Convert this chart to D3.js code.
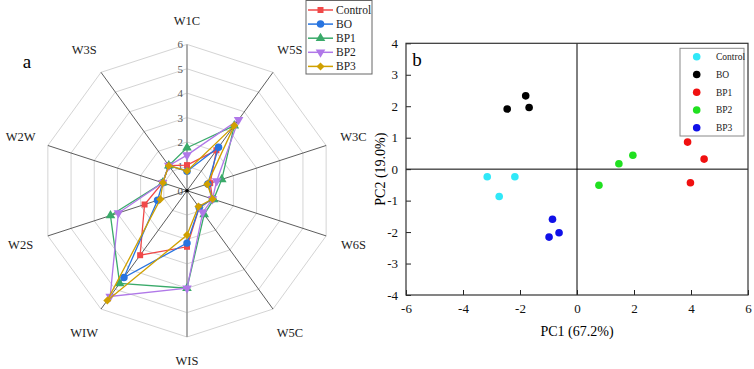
<!DOCTYPE html>
<html>
<head>
<meta charset="utf-8">
<script src="https://cdn.jsdelivr.net/npm/d3@7"></script>
<style>
  body { margin: 0; background: #fff; }
  svg { display: block; font-family: "Liberation Serif", "Times New Roman", serif; }
</style>
</head>
<body>
<svg id="chart" width="754" height="369"></svg>
<script>
// Radar (a) data
const sensors = ["W1C", "W5S", "W3C", "W6S", "W5C", "WIS", "WIW", "W2S", "W2W", "W3S"];
const groups = ["Control", "BO", "BP1", "BP2", "BP3"];
const radarControl = [1.05, 2.05, 1.0, 1.1, 0.85, 2.3, 3.27, 1.83, 1.05, 1.27];
const radarBO = [0.8, 2.2, 0.9, 1.1, 0.85, 2.15, 4.4, 1.27, 1.05, 1.27];
const radarBP1 = [1.76, 3.3, 1.5, 1.15, 1.2, 4.0, 4.7, 3.3, 1.05, 1.27];
const radarBP2 = [1.46, 3.6, 1.28, 1.1, 1.1, 4.0, 5.36, 2.96, 1.05, 1.27];
const radarBP3 = [0.81, 3.3, 0.87, 1.1, 0.8, 1.82, 5.56, 1.15, 1.04, 1.27];
const radarTicks = [0, 1, 2, 3, 4, 5, 6];

// PCA (b) data, [PC1, PC2]
const pcaControl = [[-3.15, -0.24], [-2.18, -0.24], [-2.73, -0.87]];
const pcaBO = [[-1.8, 2.33], [-2.45, 1.91], [-1.68, 1.96]];
const pcaBP1 = [[3.88, 0.86], [4.46, 0.32], [3.98, -0.43]];
const pcaBP2 = [[1.96, 0.44], [1.47, 0.17], [0.77, -0.51]];
const pcaBP3 = [[-0.86, -1.59], [-0.63, -2.02], [-0.98, -2.16]];
const pcaXTicks = [-6, -4, -2, 0, 2, 4, 6];
const pcaYTicks = [-4, -3, -2, -1, 0, 1, 2, 3, 4];

const svg = d3.select("#chart");

// ---------- Radar ----------
function drawRadar() {
  const cx = 187, cy = 190.7;
  const series = [radarControl, radarBO, radarBP1, radarBP2, radarBP3];
  const colors = ["#f04848", "#2874e0", "#3aaa6a", "#b078e8", "#d0a000"];
  const symbols = [
    { type: d3.symbolSquare, size: 36, rot: 0 },
    { type: d3.symbolCircle, size: 44, rot: 0 },
    { type: d3.symbolTriangle, size: 40, rot: 0 },
    { type: d3.symbolTriangle, size: 40, rot: 180 },
    { type: d3.symbolSquare, size: 32, rot: 45 }
  ];

  const r = d3.scaleLinear().domain([0, 6]).range([0, 146.3]);
  const angle = d3.scalePoint().domain(d3.range(sensors.length + 1)).range([0, 2 * Math.PI]);

  const g = svg.append("g").attr("transform", `translate(${cx},${cy})`);

  const ringLine = d3.lineRadial()
    .angle((d, i) => angle(i))
    .radius(d => r(d))
    .curve(d3.curveLinearClosed);

  // rings
  radarTicks.filter(t => t > 0).forEach(t => {
    g.append("path")
      .attr("d", ringLine(sensors.map(() => t)))
      .attr("fill", "none")
      .attr("stroke", "#d4d4d4")
      .attr("stroke-width", 1);
  });

  // spokes
  sensors.forEach((s, i) => {
    const a = angle(i);
    const vertical = (i === 0 || i === 5);
    g.append("line")
      .attr("x1", 0).attr("y1", 0)
      .attr("x2", r(6) * Math.sin(a))
      .attr("y2", -r(6) * Math.cos(a))
      .attr("stroke", vertical ? "#999" : "#333")
      .attr("stroke-width", vertical ? 1.6 : 0.8);
  });

  // tick labels
  radarTicks.forEach(t => {
    g.append("text")
      .attr("x", -4)
      .attr("y", -r(t) + 4)
      .attr("text-anchor", "end")
      .attr("font-size", 11)
      .attr("fill", "#555")
      .text(t);
  });
  g.append("circle").attr("r", 1.8).attr("fill", "#000");

  // sensor labels
  sensors.forEach((s, i) => {
    const a = angle(i);
    const lr = (i % 5 === 0) ? 170 : 175;
    g.append("text")
      .attr("x", lr * Math.sin(a))
      .attr("y", -lr * Math.cos(a) + 4.5)
      .attr("text-anchor", "middle")
      .attr("font-size", 12.5)
      .attr("fill", "#222")
      .text(s);
  });

  // series
  series.forEach((vals, k) => {
    g.append("path")
      .attr("d", ringLine(vals))
      .attr("fill", "none")
      .attr("stroke", colors[k])
      .attr("stroke-width", 1.3);
    const sym = d3.symbol().type(symbols[k].type).size(symbols[k].size);
    vals.forEach((v, i) => {
      const a = angle(i);
      g.append("path")
        .attr("d", sym())
        .attr("fill", colors[k])
        .attr("transform", `translate(${r(v) * Math.sin(a)},${-r(v) * Math.cos(a)}) rotate(${symbols[k].rot})`);
    });
  });

  // panel letter
  svg.append("text").attr("x", 27).attr("y", 68)
    .attr("text-anchor", "middle").attr("font-size", 19).text("a");

  // legend
  const lg = svg.append("g");
  lg.append("rect")
    .attr("x", 306).attr("y", 0.5).attr("width", 66).attr("height", 73.5)
    .attr("fill", "#fff").attr("stroke", "#666").attr("stroke-width", 1);
  groups.forEach((name, k) => {
    const y = 10 + k * 14.1;
    lg.append("line")
      .attr("x1", 308).attr("x2", 333).attr("y1", y).attr("y2", y)
      .attr("stroke", colors[k]).attr("stroke-width", 1.5);
    lg.append("path")
      .attr("d", d3.symbol().type(symbols[k].type).size(symbols[k].size)())
      .attr("fill", colors[k])
      .attr("transform", `translate(320.5,${y}) rotate(${symbols[k].rot})`);
    lg.append("text")
      .attr("x", 336).attr("y", y + 4)
      .attr("font-size", 11.5).attr("fill", "#222")
      .text(name);
  });
}

// ---------- PCA ----------
function drawPCA() {
  const left = 406, right = 748, top = 43.3, bottom = 295;
  const series = [pcaControl, pcaBO, pcaBP1, pcaBP2, pcaBP3];
  const colors = ["#30e8f8", "#000000", "#f01010", "#20e020", "#1010e8"];

  const x = d3.scaleLinear().domain([-6, 6]).range([left, right]);
  const y = d3.scaleLinear().domain([-4, 4]).range([bottom, top]);

  const g = svg.append("g");

  // zero lines
  g.append("line").attr("x1", x(0)).attr("x2", x(0)).attr("y1", top).attr("y2", bottom)
    .attr("stroke", "#000").attr("stroke-width", 1);
  g.append("line").attr("x1", left).attr("x2", right).attr("y1", y(0)).attr("y2", y(0))
    .attr("stroke", "#000").attr("stroke-width", 1);

  // axes with inward ticks, plain hyphen minus like the original
  const fmt = d => String(d);
  const xAxis = d3.axisBottom(x).tickValues(pcaXTicks).tickFormat(fmt).tickSizeInner(-5).tickSizeOuter(0).tickPadding(9);
  const yAxis = d3.axisLeft(y).tickValues(pcaYTicks).tickFormat(fmt).tickSizeInner(-5).tickSizeOuter(0).tickPadding(8);

  const gx = g.append("g").attr("transform", `translate(0,${bottom})`).call(xAxis);
  const gy = g.append("g").attr("transform", `translate(${left},0)`).call(yAxis);
  [gx, gy].forEach(ax => {
    ax.select(".domain").remove();
    ax.selectAll("text").attr("font-family", "Liberation Serif, serif").attr("font-size", 13).attr("fill", "#111");
    ax.selectAll("line").attr("stroke", "#222");
  });

  // frame
  g.append("rect")
    .attr("x", left).attr("y", top).attr("width", right - left).attr("height", bottom - top)
    .attr("fill", "none").attr("stroke", "#333").attr("stroke-width", 1.2);

  // points
  series.forEach((pts, k) => {
    g.selectAll(null).data(pts).enter().append("circle")
      .attr("cx", d => x(d[0]))
      .attr("cy", d => y(d[1]))
      .attr("r", 3.8)
      .attr("fill", colors[k]);
  });

  // axis titles
  g.append("text").attr("x", x(0)).attr("y", 336)
    .attr("text-anchor", "middle").attr("font-size", 14).text("PC1 (67.2%)");
  g.append("text")
    .attr("transform", `translate(385,${y(0)}) rotate(-90)`)
    .attr("text-anchor", "middle").attr("font-size", 14).text("PC2 (19.0%)");

  // panel letter
  g.append("text").attr("x", 417).attr("y", 66)
    .attr("text-anchor", "middle").attr("font-size", 19).text("b");

  // legend
  const lg = g.append("g");
  lg.append("rect")
    .attr("x", 680).attr("y", 48.3).attr("width", 64).attr("height", 87.7)
    .attr("fill", "#fff").attr("stroke", "#888").attr("stroke-width", 1);
  groups.forEach((name, k) => {
    const yy = 56.7 + k * 17.75;
    lg.append("circle").attr("cx", 696.7).attr("cy", yy).attr("r", 3.8).attr("fill", colors[k]);
    lg.append("text").attr("x", 716).attr("y", yy + 3.5)
      .attr("font-size", 9.5).attr("fill", "#222").text(name);
  });
}

drawRadar();
drawPCA();
</script>
</body>
</html>
